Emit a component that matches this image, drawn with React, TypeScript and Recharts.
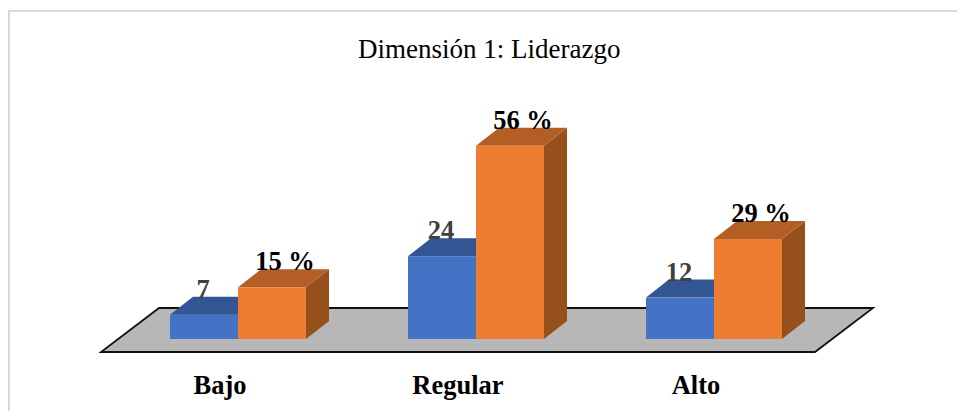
import React from 'react';
import { BarChart, Bar, XAxis, YAxis, LabelList, usePlotArea } from 'recharts';

const categorias = ['Bajo', 'Regular', 'Alto'];
const frecuencia = [7, 24, 12];
const porcentaje = [15, 56, 29];

const data = categorias.map((nombre, i) => ({
  nombre,
  frecuencia: frecuencia[i],
  porcentaje: porcentaje[i],
}));

const FONT = '"Liberation Serif", "Times New Roman", serif';
const DEPTH_X = 23;
const DEPTH_Y = 18;

// cara frontal, superior y lateral de cada barra "3D"
const Bar3D = ({ x, y, width, height, front, top, side }: any) => (
  <g>
    <polygon
      points={`${x + width},${y} ${x + width + DEPTH_X},${y - DEPTH_Y} ${x + width + DEPTH_X},${y + height - DEPTH_Y} ${x + width},${y + height}`}
      fill={side}
    />
    <polygon
      points={`${x},${y} ${x + DEPTH_X},${y - DEPTH_Y} ${x + width + DEPTH_X},${y - DEPTH_Y} ${x + width},${y}`}
      fill={top}
    />
    <rect x={x} y={y} width={width} height={height} fill={front} />
  </g>
);

// piso gris debajo de las barras
const Floor = () => {
  const plot = usePlotArea();
  if (!plot) return null;
  const base = plot.y + plot.height;
  const left = plot.x - 18;
  const right = plot.x + plot.width - 18;
  const front = base + 13;
  const back = base - 31;
  return (
    <polygon
      points={`${left},${front} ${right},${front} ${right + 58},${back} ${left + 58},${back}`}
      fill="#b7b7b7"
      stroke="#111111"
      strokeWidth={1.8}
    />
  );
};

const makeLabel = (color: string, dx: number, suffix: string) => (props: any) => {
  const { x, y, width, value } = props;
  return (
    <text
      x={x + width / 2 + dx}
      y={y - DEPTH_Y + 1}
      textAnchor="middle"
      fontFamily={FONT}
      fontSize={26.5}
      fontWeight="bold"
      fill={color}
    >
      {value}
      {suffix}
    </text>
  );
};

export default function App() {
  return (
    <div style={{ position: 'fixed', left: 0, top: 0, width: 957, height: 411, background: '#fff', overflow: 'hidden' }}>
      <div
        style={{
          position: 'absolute',
          left: 8,
          top: 10,
          width: 960,
          height: 420,
          borderTop: '2px solid #d9d9d9',
          borderLeft: '2px solid #d9d9d9',
        }}
      />
      <div
        style={{
          position: 'absolute',
          left: 358,
          top: 33,
          fontFamily: FONT,
          fontSize: 27,
          lineHeight: '32px',
          color: '#000',
          whiteSpace: 'nowrap',
        }}
      >
        Dimensión 1: Liderazgo
      </div>
      <div style={{ position: 'absolute', left: 0, top: 0 }}>
        <BarChart
          width={957}
          height={411}
          data={data}
          margin={{ top: 132, right: 124, bottom: 0, left: 119 }}
          barGap={0}
          barSize={68}
        >
          <Floor />
          <XAxis
            dataKey="nombre"
            axisLine={false}
            tickLine={false}
            interval={0}
            height={72}
            tickMargin={30}
            dx={-18}
            tick={{ fontFamily: FONT, fontSize: 26.5, fontWeight: 'bold', fill: '#000' }}
          />
          <YAxis hide domain={[0, 60]} />
          <Bar
            dataKey="frecuencia"
            isAnimationActive={false}
            shape={(p: any) => <Bar3D {...p} front="#4472c4" top="#335593" side="#2f5597" />}
          >
            <LabelList dataKey="frecuencia" content={makeLabel('#404040', -1, '')} />
          </Bar>
          <Bar
            dataKey="porcentaje"
            isAnimationActive={false}
            shape={(p: any) => <Bar3D {...p} front="#ed7d31" top="#b25e25" side="#96501c" />}
          >
            <LabelList dataKey="porcentaje" content={makeLabel('#000', 13, ' %')} />
          </Bar>
        </BarChart>
      </div>
    </div>
  );
}
